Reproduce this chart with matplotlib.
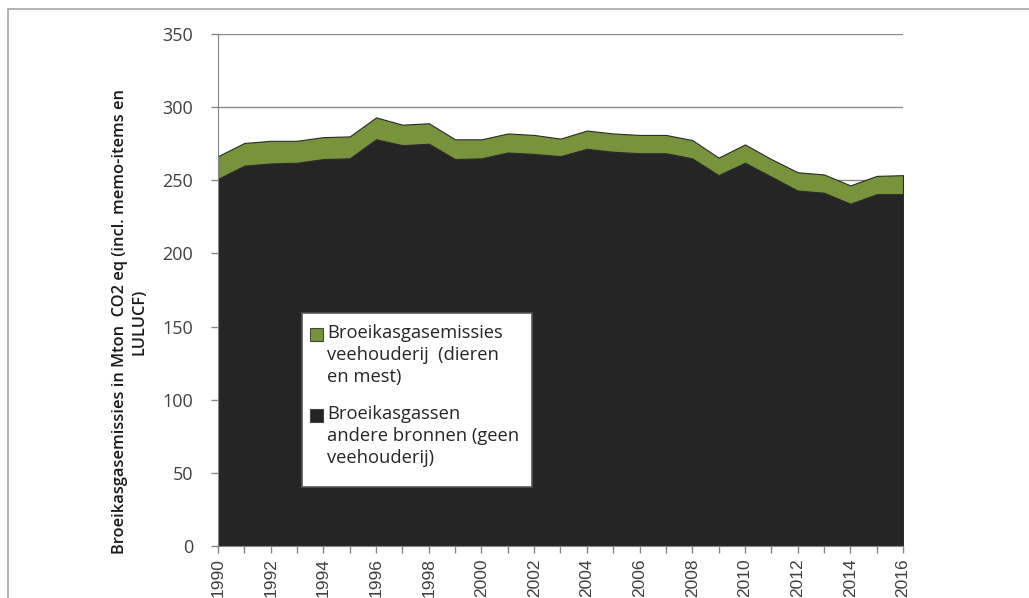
import matplotlib
matplotlib.use("Agg")
import matplotlib.pyplot as plt
from matplotlib.patches import Rectangle

years = list(range(1990, 2017))
# other sources (bottom, dark) and livestock (top, green), Mton CO2 eq
andere_bronnen = [251, 260, 261.5, 262, 264.5, 265, 278, 274, 275, 264.5, 265,
                  269, 268, 266.5, 271.5, 269.5, 268.5, 268.5, 265, 253.5, 262,
                  252.5, 243, 241.5, 234, 240.5, 240.5]
veehouderij = [15.5, 15.5, 15.5, 15, 15, 15, 15, 14, 14, 13.5, 13,
               13, 13, 12, 12.5, 12.5, 12.5, 12.5, 12.5, 12, 12.5,
               12, 12.5, 12.5, 12.5, 12.5, 13]
labels = ["Broeikasgasemissies\nveehouderij  (dieren\nen mest)",
          "Broeikasgassen\nandere bronnen (geen\nveehouderij)"]
ylabel = "Broeikasgasemissies in Mton  CO2 eq (incl. memo-items en\nLULUCF)"

dark = "#252525"
green = "#77933C"

W, H = 1029, 598
fig = plt.figure(figsize=(W / 100, H / 100), dpi=100)
ax = fig.add_axes([218 / W, 1 - 546 / H, 685 / W, 512 / H])

ax.stackplot(years, andere_bronnen, veehouderij, colors=[dark, green],
             edgecolor="#2a2a2a", linewidth=0.8, zorder=2)

ax.set_xlim(1990, 2016)
ax.set_ylim(0, 350)
ax.set_yticks(range(0, 351, 50))
ax.set_xticks(years)
ax.set_xticklabels([str(y) if y % 2 == 0 else "" for y in years],
                   rotation=90, fontsize=12.5, family="Liberation Sans",
                   color="#333333")
for t in ax.get_yticklabels():
    t.set_family("Open Sans")
    t.set_fontsize(13)
    t.set_color("#404040")

ax.grid(axis="y", color="#8c8c8c", linewidth=1, zorder=0)
ax.set_axisbelow(True)
for s in ["top", "right"]:
    ax.spines[s].set_visible(False)
for s in ["left", "bottom"]:
    ax.spines[s].set_color("#868686")
ax.tick_params(axis="both", colors="#868686", length=5, width=1,
               labelcolor="#404040", pad=4)
ax.tick_params(axis="y", pad=13)

# legend drawn by hand so the swatches line up with the first text line
fig.patches.append(Rectangle((302 / W, 1 - 487 / H), 230 / W, 174 / H,
                             transform=fig.transFigure, facecolor="white",
                             edgecolor="#555555", linewidth=1.2, zorder=5))
for i, (lab, col) in enumerate(zip(labels, [green, dark])):
    top = 324 + i * 81
    fig.patches.append(Rectangle((310 / W, 1 - (top + 17) / H), 13 / W, 13 / H,
                                 transform=fig.transFigure, facecolor=col,
                                 edgecolor="#444444", linewidth=0.8, zorder=6))
    fig.text(327 / W, 1 - top / H, lab, ha="left", va="top",
             family="Open Sans", fontsize=13.2, color="#262626",
             linespacing=1.3, zorder=7)

fig.text(130 / W, 1 - 322 / H, ylabel, rotation=90, ha="center",
         va="center", multialignment="center", family="Open Sans",
         fontsize=11.8, fontweight="semibold", color="#1a1a1a",
         linespacing=1.3)

fig.patches.append(Rectangle((8 / W, -0.1), 1.2, 1 - 9 / H + 0.1,
                             transform=fig.transFigure, fill=False,
                             edgecolor="#a6a6a6", linewidth=1.2))

fig.savefig("out.png", dpi=100)
